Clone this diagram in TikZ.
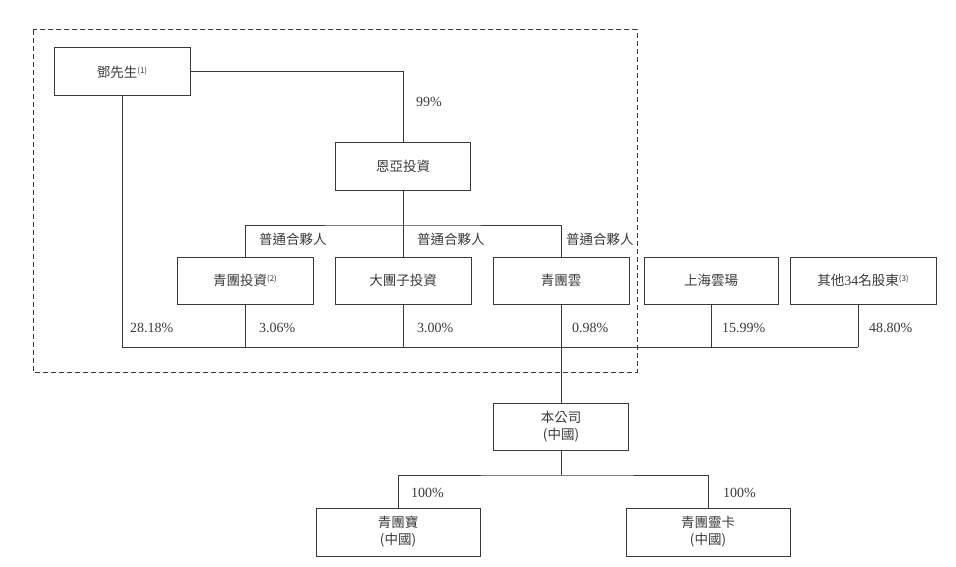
\documentclass[tikz,border=0pt]{standalone}
\usepackage{fontspec}
\setmainfont{Liberation Serif}
\newfontfamily\cjk{Noto Sans CJK TC}
\definecolor{ink}{HTML}{3A3A3A}
\newcommand{\supnote}[1]{\raisebox{4pt}{\fontsize{8}{8}\selectfont(#1)}}
\tikzset{
  box/.style={draw=ink, line width=1pt, minimum height=47pt, inner sep=0pt, align=center, font=\fontsize{13.5}{17}\selectfont\cjk, text=ink},
  lbl/.style={anchor=west, inner sep=0pt, text=ink, font=\fontsize{14}{16}\selectfont},
  cjklbl/.style={anchor=west, inner sep=0pt, text=ink, font=\fontsize{13.5}{16}\selectfont\cjk},
  conn/.style={draw=ink, line width=1pt},
  group/.style={draw=ink, line width=1pt, dash pattern=on 5pt off 3pt}
}
\begin{document}
\begin{tikzpicture}[x=1pt,y=-1pt]
\useasboundingbox (0,0) rectangle (956,567);
\draw[group] (33,30) rectangle (637,372);

\node[box, minimum width=136pt, minimum height=48pt] (deng) at (122,72) {鄧先生\supnote{1}};
\node[box, minimum width=135pt] (enya) at (403,166.5) {恩亞投資};
\node[box, minimum width=136pt] (qtz) at (245,280.5) {青團投資\supnote{2}};
\node[box, minimum width=136pt] (dtz) at (403,280.5) {大團子投資};
\node[box, minimum width=136pt] (qty) at (561,280.5) {青團雲};
\node[box, minimum width=134pt] (shyc) at (711,280.5) {上海雲瑒};
\node[box, minimum width=146pt] (qita) at (863,280.5) {其他{\rmfamily\fontsize{14}{16}\selectfont 34}名股東\supnote{3}};
\node[box, minimum width=135pt] (bgs) at (561,426.5) {本公司\\(中國)};
\node[box, minimum width=164pt, minimum height=48pt] (qtb) at (398,532) {青團寶\\(中國)};
\node[box, minimum width=164pt, minimum height=48pt] (qtlk) at (708,532) {青團靈卡\\(中國)};

\coordinate (barR) at (858,347);
\coordinate (gp) at (403,225);
\coordinate (sp) at (561,475);

% top ownership
\draw[conn] (deng.east) -| (enya.north);
\draw[conn] (deng.south) |- (barR);
\draw[conn] (qita.south -| barR) -- (barR);
\draw[conn] (qtz.south) -- (qtz.south |- barR);
\draw[conn] (dtz.south) -- (dtz.south |- barR);
\draw[conn] (shyc.south) -- (shyc.south |- barR);
\draw[conn] (qty.south) -- (bgs.north);

% general partner
\draw[conn] (enya.south) -- (dtz.north);
\draw[conn] (qtz.north) |- (gp) -| (qty.north);

% subsidiaries
\draw[conn] (bgs.south) -- (sp);
\draw[conn] (qtb.north) |- (sp) -| (qtlk.north);

% labels
\node[lbl] (l99) at (416,102) {99\%};
\node[cjklbl] (gp1) at (259,239) {普通合夥人};
\node[cjklbl] (gp2) at (417,239) {普通合夥人};
\node[cjklbl] (gp3) at (566,239) {普通合夥人};
\node[lbl] (p1) at (130,328) {28.18\%};
\node[lbl] (p2) at (259,328) {3.06\%};
\node[lbl] (p3) at (417,328) {3.00\%};
\node[lbl] (p4) at (572,328) {0.98\%};
\node[lbl] (p5) at (722,328) {15.99\%};
\node[lbl] (p6) at (869,328) {48.80\%};
\node[lbl] (s1) at (411,493) {100\%};
\node[lbl] (s2) at (723,493) {100\%};
\end{tikzpicture}
\end{document}
